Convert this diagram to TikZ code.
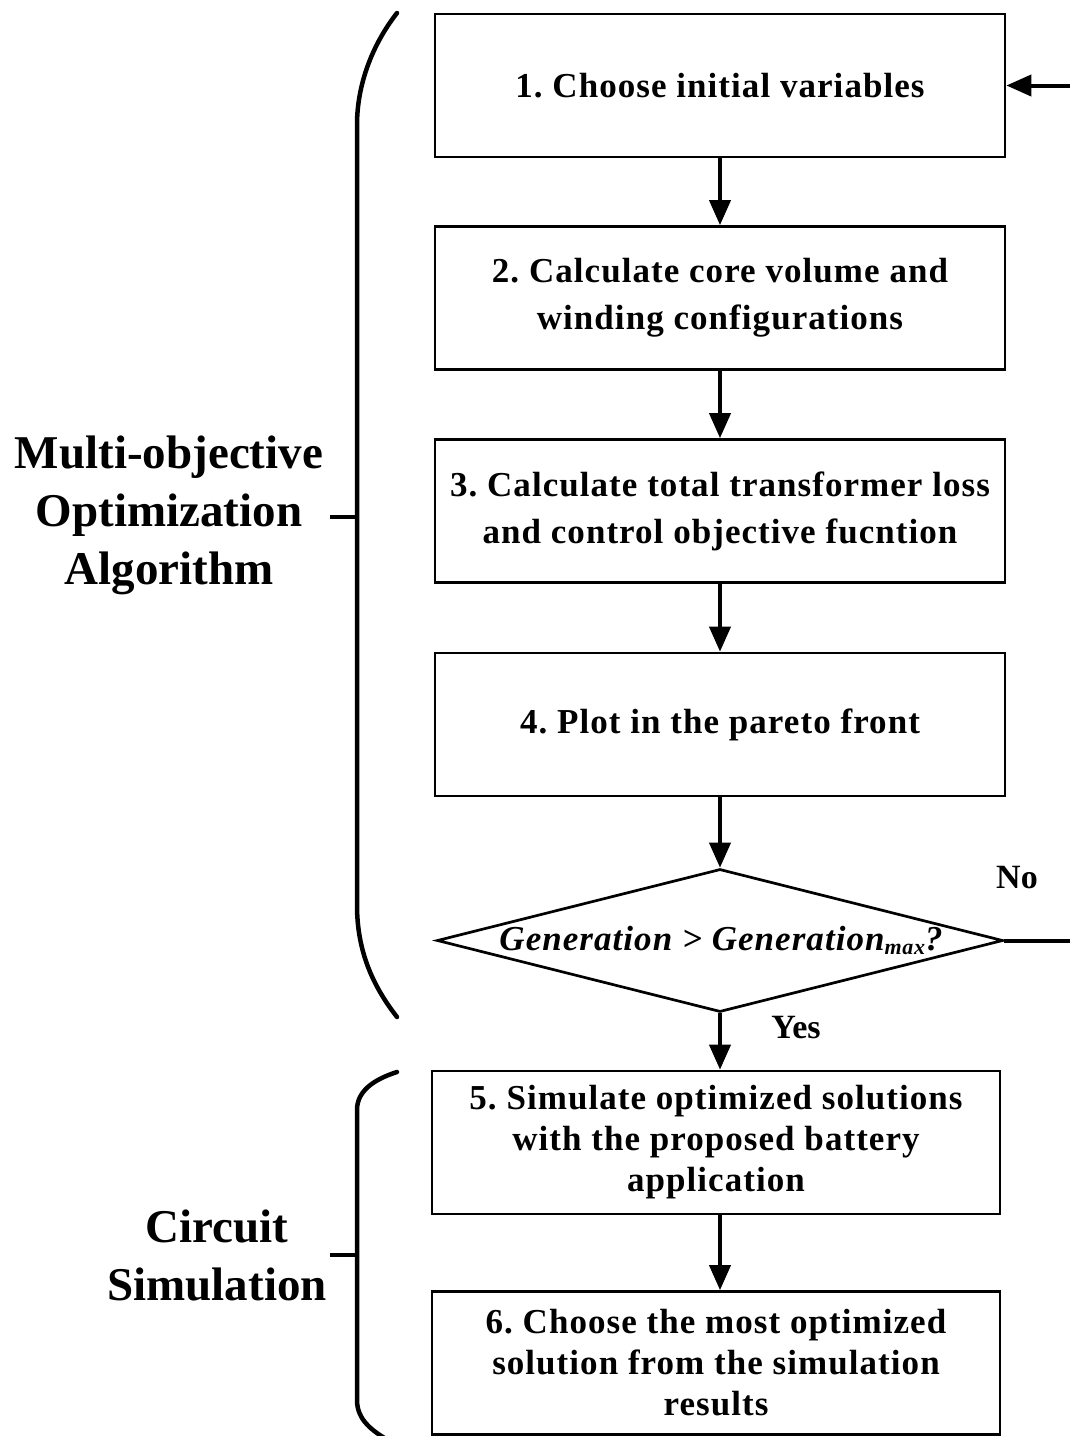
\documentclass[tikz,border=0pt]{standalone}
\usepackage{fontspec}
\setmainfont{Liberation Serif}
\newfontfamily\spacedfont{Liberation Serif}[LetterSpace=3]
\usetikzlibrary{arrows.meta,shapes.geometric}
\begin{document}
\frenchspacing
\begin{tikzpicture}[x=1pt,y=-1pt,
  box/.style={draw,line width=2.7pt,minimum width=570pt,minimum height=143pt,inner sep=0pt,align=center,font=\spacedfont\bfseries\fontsize{35}{47}\selectfont},
  boxb/.style={box,minimum width=568pt,font=\spacedfont\bfseries\fontsize{35}{41}\selectfont},
  arr/.style={line width=4pt,-{Triangle[length=25pt,width=21pt]}},
  brace/.style={line width=4.5pt,line cap=round},
  tick/.style={line width=4pt},
  lbl/.style={align=center,font=\bfseries\fontsize{47}{58}\selectfont},
  small/.style={font=\bfseries\fontsize{34}{40}\selectfont}]
\useasboundingbox (0,0) rectangle (1070,1436);
\node[box] (b1) at (720,85.5) {1. Choose initial variables};
\node[box] (b2) at (720,298) {2. Calculate core volume and\\winding configurations};
\node[box] (b3) at (720,511) {3. Calculate total transformer loss\\and control objective fucntion};
\node[box] (b4) at (720,724.5) {4. Plot in the pareto front};
\node[draw,diamond,line width=2.7pt,minimum width=566pt,minimum height=143pt,inner sep=0pt] (d) at (720,940.5) {};
\node[font=\spacedfont\bfseries\itshape\fontsize{35}{40}\selectfont] (dt) at (721,940) {Generation > Generation\raisebox{-0.25ex}{\fontsize{22}{24}\selectfont max}?};
\node[boxb] (b5) at (716,1142.5) {5. Simulate optimized solutions\\with the proposed battery\\application};
\node[boxb] (b6) at (716,1363) {6. Choose the most optimized\\solution from the simulation\\results};
\draw[arr] (b1.south) -- (b2.north);
\draw[arr] (b2.south) -- (b3.north);
\draw[arr] (b3.south) -- (b4.north);
\draw[arr] (b4.south) -- (d.north);
\draw[arr] (d.south) -- (d.south |- b5.north);
\draw[arr] (b5.south -| d.south) -- (d.south |- b6.north);
\draw[arr] (d.east) -- ++(90,0) |- (b1.east);
\node[small] (no) at (1017,878) {No};
\node[small] (yes) at (796,1028) {Yes};
\draw[brace] (397,13) .. controls (372,45) and (357,85) .. (357,125) -- (357,905) .. controls (357,950) and (372,985) .. (397,1017);
\node[lbl] (l1) at (169,515) {Multi-objective\\Optimization\\Algorithm};
\draw[tick] (330,517) -- (357,517);
\draw[brace] (397,1072) .. controls (372,1080) and (357,1092) .. (357,1110) -- (357,1400) .. controls (357,1420) and (372,1432) .. (397,1445);
\node[lbl] (l2) at (217,1255) {Circuit\\Simulation};
\draw[tick] (330,1255) -- (357,1255);
\end{tikzpicture}
\end{document}
